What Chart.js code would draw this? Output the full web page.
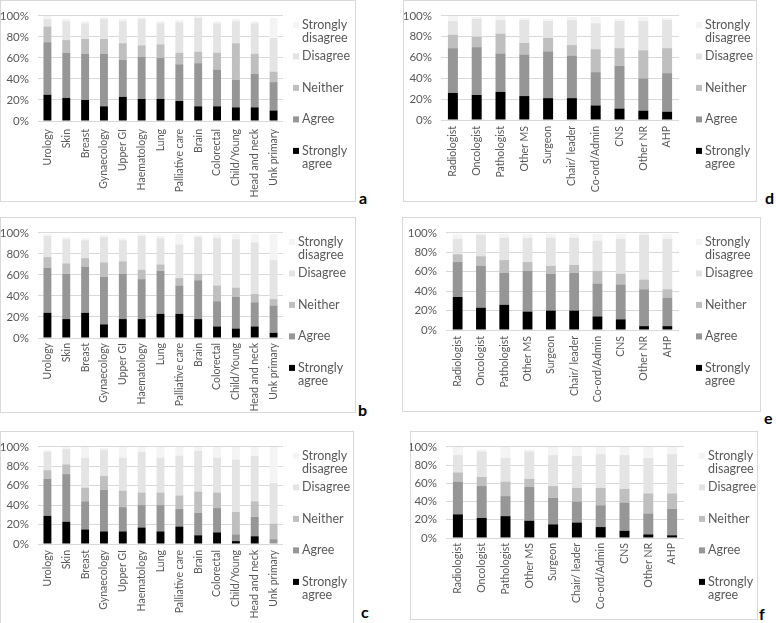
<!DOCTYPE html>
<html>
<head>
<meta charset="utf-8">
<script src="https://cdn.jsdelivr.net/npm/chart.js@4.4.1/dist/chart.umd.min.js"></script>
<style>
  html, body { margin:0; padding:0; background:#fff; }
  body { width:776px; height:623px; position:relative; overflow:hidden; font-family: Lato, "Open Sans", sans-serif; }
  .box { position:absolute; box-sizing:border-box; border:1px solid #d9d9d9; }
  canvas { position:absolute; }
  .tag { position:absolute; font-family: Lato, sans-serif; font-weight:bold; font-size:16px; color:#000; line-height:16px; }
</style>
</head>
<body>
<script>
// ---------- categories ----------
const tumourTypes = ['Urology','Skin','Breast','Gynaecology','Upper GI','Haematology','Lung','Palliative care','Brain','Colorectal','Child/Young','Head and neck','Unk primary'];
const roles = ['Radiologist','Oncologist','Pathologist','Other MS','Surgeon','Chair/ leader','Co-ord/Admin','CNS','Other NR','AHP'];
const seriesNames = ['Strongly agree','Agree','Neither','Disagree','Strongly disagree'];
const yTickValues = [0, 20, 40, 60, 80, 100];

// ---------- panel a (by tumour type) ----------
const a_stronglyAgree    = [25,22,20,14,23,21,21,19,14,14,13,13,10];
const a_agree            = [50,43,44,50,35,40,39,35,41,35,26,32,27];
const a_neither          = [15,12,14,14,16,11,13,11,11,16,35,19,10];
const a_disagree         = [ 7,18,15,19,21,25,20,29,32,28,21,29,32];
const a_stronglyDisagree = [ 3, 2, 2, 2, 2, 2, 2, 2, 2, 2, 2, 2,19];

// ---------- panel b (by tumour type) ----------
const b_stronglyAgree    = [24,18,24,13,18,18,23,23,18,11, 9,11, 5];
const b_agree            = [43,43,44,45,43,38,41,27,37,24,30,23,26];
const b_neither          = [10,10, 8,14,12, 9, 6, 7, 6,15, 9, 8, 6];
const b_disagree         = [20,23,17,24,20,32,25,32,35,45,46,49,37];
const b_stronglyDisagree = [ 2, 2, 2, 2, 2, 2, 2,10, 2, 4, 5, 8,25];

// ---------- panel c (by tumour type) ----------
const c_stronglyAgree    = [29,23,15,13,13,17,13,18, 9,12, 3, 8, 0];
const c_agree            = [38,49,29,43,25,23,27,18,23,25, 7,20, 5];
const c_neither          = [ 9,10,14,14,17,13,13,14,22,16,23,16,16];
const c_disagree         = [19,16,31,27,34,42,36,41,42,36,54,47,42];
const c_stronglyDisagree = [ 2, 2,11, 2,11, 5,11, 9, 4,11,13, 9,37];

// ---------- panel d (by role) ----------
const d_stronglyAgree    = [26,24,27,23,21,21,14,11, 9, 8];
const d_agree            = [43,46,37,40,45,41,32,41,31,37];
const d_neither          = [13,10,19,11,13,10,22,17,27,24];
const d_disagree         = [13,17,13,22,16,24,25,26,28,27];
const d_stronglyDisagree = [ 5, 2, 4, 2, 2, 3, 6, 2, 4, 2];

// ---------- panel e (by role) ----------
const e_stronglyAgree    = [34,23,26,19,20,20,14,11, 4, 4];
const e_agree            = [36,43,33,42,38,39,34,36,38,29];
const e_neither          = [ 8,10,13, 9, 8, 8,13,11,10, 9];
const e_disagree         = [16,22,23,25,29,28,31,36,46,52];
const e_stronglyDisagree = [ 5, 2, 4, 4, 4, 4, 7, 5, 2, 5];

// ---------- panel f (by role) ----------
const f_stronglyAgree    = [26,22,24,19,15,17,12, 8, 4, 3];
const f_agree            = [36,35,22,37,29,23,24,31,23,29];
const f_neither          = [10,10,16, 9,13,15,19,15,22,17];
const f_disagree         = [19,28,26,30,34,35,37,37,39,43];
const f_stronglyDisagree = [ 9, 2,12, 2, 9,10, 8, 9,12, 8];

// ---------- styling / layout ----------
const seriesColors = ['#000000','#969696','#bfbfbf','#e4e4e4','#f4f4f4'];
const legendLines = { 'Strongly agree':['Strongly','agree'], 'Agree':['Agree'], 'Neither':['Neither'], 'Disagree':['Disagree'], 'Strongly disagree':['Strongly','disagree'] };
const FONT = 'Lato, "Open Sans", sans-serif';
const TXT = '#595959';

const panels = [
  { tag:'a', cats:tumourTypes, vals:[a_stronglyAgree,a_agree,a_neither,a_disagree,a_stronglyDisagree],
    box:{l:0,t:0,r:356,b:202}, plot:{l:38,r:283,t:11,b:121}, legendX:302, tagPos:{x:359,y:190}, tickPad:8 },
  { tag:'b', cats:tumourTypes, vals:[b_stronglyAgree,b_agree,b_neither,b_disagree,b_stronglyDisagree],
    box:{l:0,t:217,r:356,b:413}, plot:{l:38,r:283,t:228,b:338}, legendX:298, tagPos:{x:358,y:402}, tickPad:5 },
  { tag:'c', cats:tumourTypes, vals:[c_stronglyAgree,c_agree,c_neither,c_disagree,c_stronglyDisagree],
    box:{l:0,t:431,r:354,b:624}, plot:{l:38,r:283,t:440,b:544}, legendX:302, tagPos:{x:361,y:604}, tickPad:6 },
  { tag:'d', cats:roles, vals:[d_stronglyAgree,d_agree,d_neither,d_disagree,d_stronglyDisagree],
    box:{l:403,t:0,r:757,b:202}, plot:{l:441,r:679,t:10,b:120}, legendX:705, tagPos:{x:765,y:190}, tickPad:6 },
  { tag:'e', cats:roles, vals:[e_stronglyAgree,e_agree,e_neither,e_disagree,e_stronglyDisagree],
    box:{l:402,t:217,r:761,b:412}, plot:{l:446,r:679,t:229,b:330}, legendX:705, tagPos:{x:764,y:410}, tickPad:6 },
  { tag:'f', cats:roles, vals:[f_stronglyAgree,f_agree,f_neither,f_disagree,f_stronglyDisagree],
    box:{l:410,t:431,r:758,b:620}, plot:{l:446,r:684,t:439,b:538}, legendX:708, tagPos:{x:759,y:606}, tickPad:5 }
];

const sideLegend = {
  id:'sideLegend',
  afterDraw(chart, args, opts) {
    const ctx = chart.ctx;
    const top = chart.chartArea.top;
    ctx.save();
    ctx.font = '12.5px ' + FONT;
    ctx.textBaseline = 'middle';
    ctx.textAlign = 'left';
    const ds = chart.data.datasets.slice().reverse();
    ds.forEach((d, i) => {
      const y = top + 9 + i * 31.5;
      ctx.fillStyle = d.backgroundColor;
      ctx.fillRect(opts.x - 9, y - 3, 6, 6);
      ctx.fillStyle = TXT;
      legendLines[d.label].forEach((ln, k) => ctx.fillText(ln, opts.x, y + k * 13.5));
    });
    ctx.restore();
  }
};

panels.forEach(p => {
  const W = p.box.r - p.box.l, H = p.box.b - p.box.t;
  const box = document.createElement('div');
  box.className = 'box';
  Object.assign(box.style, { left:p.box.l+'px', top:p.box.t+'px', width:W+'px', height:H+'px' });
  document.body.appendChild(box);

  const cv = document.createElement('canvas');
  cv.width = W; cv.height = H;
  Object.assign(cv.style, { left:p.box.l+'px', top:p.box.t+'px', width:W+'px', height:H+'px' });
  document.body.appendChild(cv);

  const tag = document.createElement('div');
  tag.className = 'tag';
  tag.textContent = p.tag;
  Object.assign(tag.style, { left:p.tagPos.x+'px', top:p.tagPos.y+'px' });
  document.body.appendChild(tag);

  const yW = p.plot.l - p.box.l;
  const xH = p.box.b - p.plot.b;
  new Chart(cv.getContext('2d'), {
    type:'bar',
    data:{
      labels:p.cats,
      datasets: seriesNames.map((n, i) => ({
        label:n, data:p.vals[i], backgroundColor:seriesColors[i],
        borderWidth:0, barPercentage:0.42, categoryPercentage:1
      }))
    },
    options:{
      responsive:false, animation:false, devicePixelRatio:1,
      layout:{ padding:{ top:p.plot.t - p.box.t, right:p.box.r - p.plot.r, left:0, bottom:0 } },
      plugins:{ legend:{display:false}, tooltip:{enabled:false}, sideLegend:{ x:p.legendX - p.box.l } },
      scales:{
        x:{
          stacked:true,
          grid:{ display:false, drawTicks:false },
          border:{ display:false },
          ticks:{ autoSkip:false, minRotation:90, maxRotation:90, padding:p.tickPad, color:TXT, font:{ family:FONT, size:10.5 } },
          afterFit(s){ s.height = xH; }
        },
        y:{
          stacked:true, min:0, max:100,
          afterBuildTicks(s){ s.ticks = yTickValues.map(v => ({ value:v })); },
          grid:{ color:'#d9d9d9', drawTicks:false, lineWidth:1 },
          border:{ display:false },
          ticks:{ padding:9, color:TXT, font:{ family:FONT, size:11.5 }, callback:v => v + '%' },
          afterFit(s){ s.width = yW; }
        }
      }
    },
    plugins:[sideLegend]
  });
});
</script>
</body>
</html>
